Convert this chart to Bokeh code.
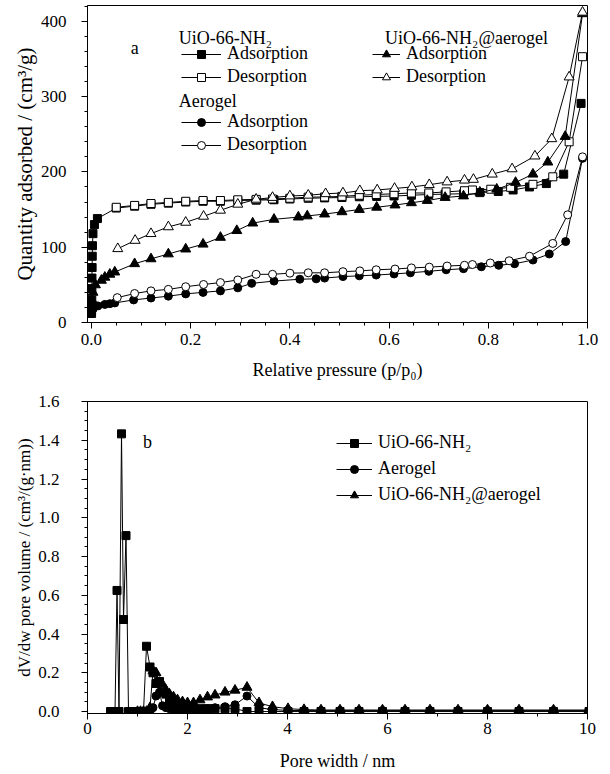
from bokeh.plotting import figure
from bokeh.models import (Legend, LegendItem, SingleIntervalTicker, Range1d, Label,
                          PrintfTickFormatter)
from bokeh.layouts import column
from bokeh.embed import file_html
from bokeh.resources import INLINE

FONT = "Liberation Serif"

# ---------------- (a) isotherms ----------------
uio_ads_x = [0.0002, 0.0004, 0.0006, 0.0008, 0.001, 0.0013, 0.0016, 0.002, 0.003, 0.006, 0.012,
             0.05, 0.087, 0.12, 0.155, 0.19, 0.225, 0.26, 0.295, 0.332, 0.368, 0.40, 0.437, 0.47,
             0.505, 0.54, 0.575, 0.61, 0.645, 0.68, 0.713, 0.75, 0.783, 0.82, 0.85, 0.883, 0.917,
             0.952, 0.987]
uio_ads_y = [12, 20, 30, 45, 59, 73, 88, 102, 118, 130, 138,
             152, 154.5, 157, 158.5, 160, 161, 161, 162, 162.5, 163, 164, 165, 165.5,
             166, 167, 167.5, 168, 169, 170, 170.5, 171, 172.5, 174, 176, 180, 184.5,
             197, 291]
uio_des_x = [0.99, 0.963, 0.93, 0.89, 0.845, 0.805, 0.768, 0.752, 0.715, 0.68, 0.645, 0.61, 0.574,
             0.54, 0.505, 0.47, 0.437, 0.40, 0.365, 0.332, 0.295, 0.26, 0.225, 0.19, 0.155, 0.12,
             0.087, 0.05]
uio_des_y = [353, 240, 193.5, 183.5, 179.5, 177, 176, 175, 173.5, 172, 172, 171, 170,
             169, 167.5, 166.7, 166.5, 165, 164, 163.5, 163, 162, 162, 161, 159.5, 158,
             155.5, 153]

aero_ads_x = [0.0003, 0.001, 0.003, 0.013, 0.027, 0.037, 0.047, 0.085, 0.12, 0.155, 0.19, 0.225,
              0.26, 0.295, 0.323, 0.368, 0.42, 0.453, 0.47, 0.507, 0.54, 0.574, 0.61, 0.643, 0.68,
              0.715, 0.75, 0.786, 0.821, 0.853, 0.89, 0.923, 0.956, 0.99]
aero_ads_y = [12, 15, 18, 22, 24, 25, 26, 30, 32.5, 35, 38, 40,
              42, 46, 52, 55, 57.5, 58, 59, 61, 62, 63, 64.5, 66, 68,
              70, 71.5, 74, 76, 78, 83, 91, 107.5, 218]
aero_des_x = [0.99, 0.96, 0.93, 0.883, 0.842, 0.804, 0.768, 0.752, 0.717, 0.681, 0.645, 0.612,
              0.574, 0.541, 0.507, 0.47, 0.437, 0.40, 0.365, 0.332, 0.295, 0.26, 0.226, 0.19,
              0.155, 0.12, 0.087, 0.052]
aero_des_y = [220, 143, 105, 88, 82, 79, 77, 76, 75, 73.5, 72.5, 71,
              70, 68.5, 67.5, 66, 66, 65.5, 64, 64, 56.5, 53, 50.5, 47.5,
              44, 42, 38.5, 33]

comp_ads_x = [0.0003, 0.001, 0.003, 0.008, 0.02, 0.027, 0.037, 0.047, 0.087, 0.12, 0.155, 0.19,
              0.225, 0.26, 0.293, 0.325, 0.368, 0.417, 0.435, 0.47, 0.505, 0.54, 0.575, 0.612,
              0.645, 0.677, 0.713, 0.75, 0.783, 0.817, 0.855, 0.89, 0.92, 0.955, 0.99]
comp_ads_y = [22, 30, 40, 50, 56, 60, 64, 67, 78, 84.5, 91, 97.5,
              104, 113, 122, 132, 137, 140, 141.5, 144, 147, 150, 153, 156,
              159, 162, 166, 168, 173, 177, 186, 197, 213, 247, 410]
comp_des_x = [0.99, 0.963, 0.928, 0.894, 0.848, 0.808, 0.77, 0.752, 0.717, 0.681, 0.646, 0.611,
              0.576, 0.541, 0.507, 0.472, 0.437, 0.40, 0.365, 0.332, 0.295, 0.26, 0.226, 0.19,
              0.155, 0.12, 0.088, 0.053]
comp_des_y = [412, 326, 244, 221, 204, 197, 190, 189, 186.6, 183, 180, 178,
              176, 175, 172, 171, 169, 168, 166, 163.6, 157, 149, 141, 133,
              127, 118, 109, 98]

# ---------------- (b) pore size distribution ----------------
uio_psd_x = [0.46, 0.50, 0.55, 0.59, 0.63, 0.68, 0.72, 0.77, 0.82, 0.87, 0.93, 1.00, 1.06, 1.12,
             1.18, 1.25, 1.31, 1.37, 1.44, 1.50, 1.57, 1.64, 1.72, 1.80, 1.90, 2.00, 2.12, 2.25,
             2.40, 2.55, 2.75, 2.95, 3.19, 3.43, 3.70, 4.01, 4.33, 4.67, 5.05, 5.43, 5.90, 6.35,
             6.85, 7.41, 8.00, 8.63, 9.32, 10.03]
uio_psd_y = [0, 0, 0, 0.625, 0, 1.433, 0.475, 0.908, 0, 0, 0, 0, 0, 0,
             0.337, 0.23, 0.20, 0.145, 0.155, 0.10, 0.09, 0.06, 0.04, 0.025, 0.02, 0.015, 0.015, 0.015,
             0.015, 0.015, 0.015, 0.015, 0.0, 0, 0, 0, 0, 0, 0, 0, 0, 0,
             0, 0, 0, 0, 0, 0]
aero_psd_x = [1.00, 1.06, 1.12, 1.18, 1.25, 1.31, 1.37, 1.44, 1.50, 1.57, 1.64, 1.72, 1.80, 1.90,
              2.00, 2.12, 2.25, 2.40, 2.55, 2.75, 2.95, 3.19, 3.43, 3.70, 4.01, 4.33, 4.67, 5.05,
              5.43, 5.90, 6.35, 6.85, 7.41, 8.00, 8.63, 9.32, 10.03]
aero_psd_y = [0, 0, 0, 0, 0.0, 0.02, 0.08, 0.10, 0.03, 0.02, 0.015, 0.01, 0.01, 0.01,
              0.01, 0.01, 0.01, 0.015, 0.02, 0.025, 0.035, 0.08, 0.02, 0.01, 0.006, 0.005, 0.005, 0.005,
              0.005, 0.005, 0.005, 0.005, 0.005, 0.005, 0.005, 0.005, 0.005]
comp_psd_x = [1.00, 1.06, 1.12, 1.18, 1.25, 1.31, 1.37, 1.44, 1.50, 1.57, 1.64, 1.72, 1.80, 1.90,
              2.00, 2.12, 2.25, 2.40, 2.55, 2.75, 2.95, 3.19, 3.43, 3.70, 4.01, 4.33, 4.67, 5.05,
              5.43, 5.90, 6.35, 6.85, 7.41, 8.00, 8.63, 9.32, 10.03]
comp_psd_y = [0, 0, 0, 0, 0.02, 0.21, 0.20, 0.15, 0.14, 0.11, 0.09, 0.075, 0.06, 0.05,
              0.045, 0.045, 0.06, 0.075, 0.085, 0.10, 0.11, 0.125, 0.045, 0.025, 0.015, 0.01, 0.008, 0.008,
              0.008, 0.008, 0.008, 0.008, 0.008, 0.008, 0.008, 0.008, 0.008]

# legend group headings of panel (a)
group_titles = ["UiO-66-NH\u2082", "Aerogel", "UiO-66-NH\u2082@aerogel"]
branch_labels = ["Adsorption", "Desorption"]
psd_labels = ["UiO-66-NH\u2082", "Aerogel", "UiO-66-NH\u2082@aerogel"]

TICK_FS = "17px"
XTITLE_FS = "18px"
LEG_FS = "18px"


def style(p, ytitle_fs, y_std, y_title_std, x_std, x_title_std):
    p.xgrid.visible = False
    p.ygrid.visible = False
    p.outline_line_color = "black"
    p.outline_line_alpha = 1.0
    p.outline_line_width = 1
    p.background_fill_color = "white"
    p.border_fill_color = "white"
    for ax in p.axis:
        ax.major_label_text_font = FONT
        ax.major_label_text_font_size = TICK_FS
        ax.major_label_text_color = "black"
        ax.axis_label_text_font = FONT
        ax.axis_label_text_font_style = "normal"
        ax.axis_label_text_font_size = XTITLE_FS
        ax.axis_label_text_color = "black"
        ax.axis_line_color = "black"
        ax.major_tick_line_color = "black"
        ax.minor_tick_line_color = "black"
        ax.major_tick_in = 0
        ax.major_tick_out = 6
        ax.minor_tick_in = 0
        ax.minor_tick_out = 3
    p.yaxis.axis_label_text_font_size = ytitle_fs
    p.yaxis.major_label_standoff = y_std
    p.yaxis.axis_label_standoff = y_title_std
    p.xaxis.major_label_standoff = x_std
    p.xaxis.axis_label_standoff = x_title_std


def series(p, x, y, marker, filled, size):
    ln = p.line(x, y, line_color="black", line_width=1)
    sc = p.scatter(x, y, marker=marker, size=size, line_color="black", line_width=1,
                   fill_color="black" if filled else "white")
    return [ln, sc]


def make_legend(items, loc, glyph_width=40, spacing=2):
    return Legend(items=items, location=loc, border_line_alpha=0, background_fill_alpha=0,
                  padding=0, margin=0, spacing=spacing, glyph_width=glyph_width, glyph_height=20,
                  label_height=20, label_standoff=6, label_text_font=FONT,
                  label_text_font_size=LEG_FS, label_text_color="black", click_policy="none")


def heading(p, x, y, text):
    p.add_layout(Label(x=x, y=y, text=text, text_font=FONT, text_font_size=LEG_FS,
                       text_align="left", text_baseline="middle", text_color="black"))


# ---- top figure (frame 83..587 x 5..322) ----
p1 = figure(width=610, height=385, x_range=Range1d(-0.008, 1.0), y_range=Range1d(0, 421),
            output_backend="svg", toolbar_location=None,
            min_border_left=83, min_border_right=23, min_border_top=5, min_border_bottom=63)
p1.xaxis.ticker = SingleIntervalTicker(interval=0.2, num_minor_ticks=4)
p1.yaxis.ticker = SingleIntervalTicker(interval=100, num_minor_ticks=5)
p1.xaxis.formatter = PrintfTickFormatter(format="%.1f")
p1.xaxis.axis_label = "Relative pressure (p/p\u2080)"
p1.yaxis.axis_label = "Quantity adsorbed / (cm\u00b3/g)"
style(p1, "21px", 15, 1, 5, 12)

r_uio_a = series(p1, uio_ads_x, uio_ads_y, "square", True, 8)
r_uio_d = series(p1, uio_des_x, uio_des_y, "square", False, 8)
r_aer_a = series(p1, aero_ads_x, aero_ads_y, "circle", True, 8)
r_aer_d = series(p1, aero_des_x, aero_des_y, "circle", False, 8)
r_com_a = series(p1, comp_ads_x, comp_ads_y, "triangle", True, 10)
r_com_d = series(p1, comp_des_x, comp_des_y, "triangle", False, 10)

p1.add_layout(make_legend([LegendItem(label=branch_labels[0], renderers=r_uio_a),
                           LegendItem(label=branch_labels[1], renderers=r_uio_d)], (94, 235)))
p1.add_layout(make_legend([LegendItem(label=branch_labels[0], renderers=r_aer_a),
                           LegendItem(label=branch_labels[1], renderers=r_aer_d)], (94, 167)))
p1.add_layout(make_legend([LegendItem(label=branch_labels[0], renderers=r_com_a),
                           LegendItem(label=branch_labels[1], renderers=r_com_d)], (285, 235),
                          glyph_width=28))
heading(p1, 0.176, 378, group_titles[0])
heading(p1, 0.176, 294, group_titles[1])
heading(p1, 0.592, 378, group_titles[2])
p1.add_layout(Label(x=0.087, y=365, text="a", text_font=FONT, text_font_size="18px",
                    text_align="center", text_baseline="middle", text_color="black"))

# ---- bottom figure (frame 87..587 x 401..713) ----
p2 = figure(width=610, height=388, x_range=Range1d(0, 10), y_range=Range1d(-0.01, 1.6),
            output_backend="svg", toolbar_location=None,
            min_border_left=87, min_border_right=23, min_border_top=16, min_border_bottom=60)
p2.xaxis.ticker = SingleIntervalTicker(interval=2, num_minor_ticks=2)
p2.yaxis.ticker = SingleIntervalTicker(interval=0.2, num_minor_ticks=4)
p2.yaxis.formatter = PrintfTickFormatter(format="%.1f")
p2.xaxis.axis_label = "Pore width / nm"
p2.yaxis.axis_label = "dV/dw pore volume / (cm\u00b3/(g\u00b7nm))"
style(p2, "17px", 22, 1, 3, 14)

q_uio = series(p2, uio_psd_x, uio_psd_y, "square", True, 8)
q_aer = series(p2, aero_psd_x, aero_psd_y, "circle", True, 8)
q_com = series(p2, comp_psd_x, comp_psd_y, "triangle", True, 10)

p2.add_layout(make_legend([LegendItem(label=psd_labels[0], renderers=q_uio),
                           LegendItem(label=psd_labels[1], renderers=q_aer),
                           LegendItem(label=psd_labels[2], renderers=q_com)],
                          (249, 208), glyph_width=36, spacing=5))
p2.add_layout(Label(x=1.2, y=1.39, text="b", text_font=FONT, text_font_size="18px",
                    text_align="center", text_baseline="middle", text_color="black"))

layout = column(p1, p2, spacing=0)
open("out.html", "w").write(file_html(layout, INLINE))
